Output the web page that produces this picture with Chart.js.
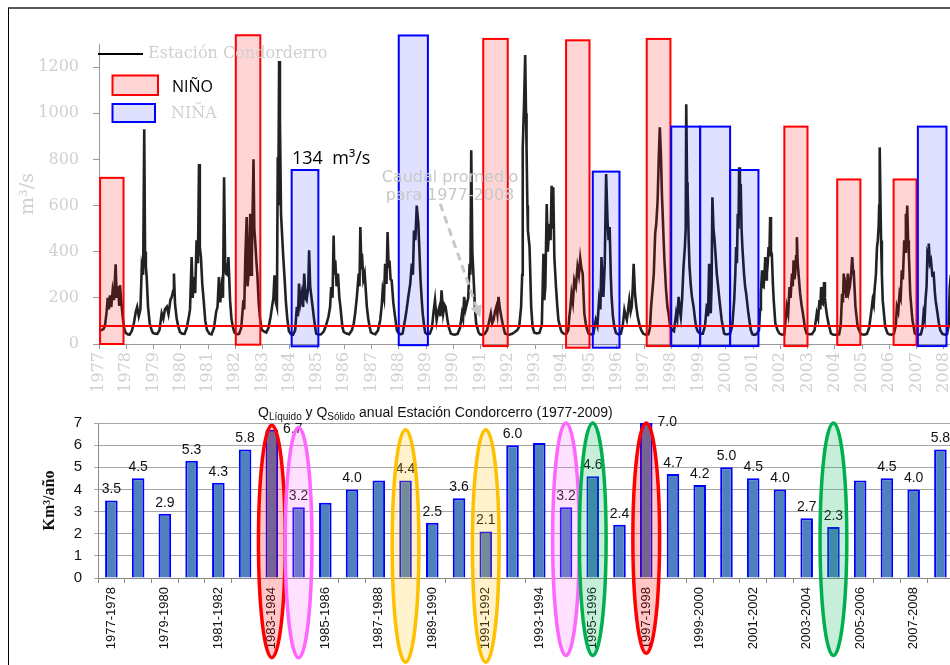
<!DOCTYPE html>
<html lang="es">
<head>
<meta charset="utf-8">
<title>Caudal diario y volumen anual - Estación Condorcerro</title>
<script src="https://cdn.jsdelivr.net/npm/chart.js@4.4.1/dist/chart.umd.min.js"></script>
<style>
  html, body { margin: 0; padding: 0; background: #fff; }
  body { width: 950px; height: 665px; overflow: hidden; position: relative; }
  #marco { position: absolute; left: 8px; top: 7px; width: 980px; height: 700px;
           border-left: 1px solid #000; border-top: 2px solid #5a5a5a; }
  #cajaCaudal { position: absolute; left: 0; top: 0; width: 971px; height: 400px; }
  #cajaVolumen { position: absolute; left: 0; top: 395px; width: 960px; height: 270px; }
</style>
</head>
<body>
<div id="marco"></div>
<div id="cajaCaudal"><canvas id="chartCaudal"></canvas></div>
<div id="cajaVolumen"><canvas id="chartVolumen"></canvas></div>
<script>
'use strict';

const hidrograma = [
  [1977.00,62],[1977.08,60],[1977.16,64],[1977.22,80],[1977.28,140],[1977.32,200],[1977.36,150],[1977.40,211],[1977.45,160],[1977.50,230],[1977.55,190],[1977.61,345],[1977.65,200],[1977.70,250],[1977.74,170],[1977.77,255],[1977.82,180],[1977.87,120],[1977.92,70],[1977.97,50],
  [1978.05,42],[1978.12,40],[1978.20,55],[1978.28,90],[1978.35,140],[1978.40,161],[1978.46,120],[1978.52,150],[1978.57,334],[1978.62,300],[1978.66,931],[1978.69,400],[1978.72,334],[1978.75,290],[1978.80,160],[1978.86,90],[1978.93,60],[1978.98,48],
  [1979.06,45],[1979.14,44],[1979.22,60],[1979.30,133],[1979.36,110],[1979.42,150],[1979.49,161],[1979.55,130],[1979.62,190],[1979.67,204],[1979.72,230],[1979.75,305],[1979.79,175],[1979.85,110],[1979.91,75],[1979.97,52],
  [1980.05,45],[1980.14,44],[1980.22,70],[1980.30,120],[1980.34,150],[1980.40,377],[1980.44,200],[1980.47,290],[1980.53,220],[1980.58,449],[1980.63,350],[1980.67,780],[1980.70,420],[1980.74,377],[1980.79,260],[1980.84,190],[1980.90,100],[1980.96,62],
  [1981.05,45],[1981.13,42],[1981.22,70],[1981.30,140],[1981.35,161],[1981.40,290],[1981.45,180],[1981.50,247],[1981.55,200],[1981.59,723],[1981.63,350],[1981.66,305],[1981.71,300],[1981.75,377],[1981.81,190],[1981.86,110],[1981.91,75],[1981.97,50],
  [1982.05,42],[1982.14,44],[1982.22,70],[1982.30,190],[1982.33,150],[1982.37,377],[1982.42,550],[1982.45,250],[1982.49,305],[1982.55,564],[1982.58,300],[1982.61,377],[1982.67,801],[1982.70,500],[1982.73,449],[1982.78,350],[1982.81,305],[1982.86,180],[1982.91,110],[1982.97,62],
  [1983.05,55],[1983.14,50],[1983.22,70],[1983.30,120],[1983.35,161],[1983.40,200],[1983.44,298],[1983.49,180],[1983.53,161],[1983.56,809],[1983.58,600],[1983.61,1226],[1983.64,967],[1983.68,564],[1983.73,449],[1983.76,380],[1983.80,305],[1983.86,180],[1983.91,110],[1983.97,55],
  [1984.05,42],[1984.12,40],[1984.20,60],[1984.26,161],[1984.30,120],[1984.34,262],[1984.39,180],[1984.44,218],[1984.49,160],[1984.53,305],[1984.58,200],[1984.62,190],[1984.68,250],[1984.71,406],[1984.75,250],[1984.78,218],[1984.84,160],[1984.88,120],[1984.93,75],[1984.97,45],
  [1985.05,40],[1985.15,42],[1985.25,55],[1985.33,80],[1985.42,118],[1985.48,160],[1985.52,247],[1985.57,200],[1985.61,470],[1985.64,300],[1985.67,363],[1985.72,250],[1985.77,305],[1985.82,200],[1985.86,161],[1985.93,75],[1985.98,52],
  [1986.08,45],[1986.18,42],[1986.28,60],[1986.35,90],[1986.40,133],[1986.46,200],[1986.53,305],[1986.56,250],[1986.59,507],[1986.63,330],[1986.65,392],[1986.70,280],[1986.75,305],[1986.83,161],[1986.88,110],[1986.93,75],[1986.98,50],
  [1987.06,45],[1987.14,42],[1987.24,60],[1987.32,104],[1987.37,160],[1987.41,233],[1987.46,200],[1987.50,348],[1987.55,260],[1987.59,485],[1987.63,330],[1987.66,362],[1987.70,280],[1987.74,276],[1987.80,180],[1987.85,132],[1987.93,60],[1987.98,48],
  [1988.06,42],[1988.14,45],[1988.23,104],[1988.29,150],[1988.35,204],[1988.42,260],[1988.48,348],[1988.52,300],[1988.56,492],[1988.61,450],[1988.66,600],[1988.69,560],[1988.72,521],[1988.76,400],[1988.80,276],[1988.85,180],[1988.88,132],[1988.93,80],[1988.97,50],
  [1989.05,42],[1989.14,45],[1989.22,70],[1989.27,132],[1989.33,190],[1989.39,104],[1989.44,140],[1989.49,161],[1989.53,120],[1989.57,233],[1989.63,132],[1989.68,170],[1989.72,161],[1989.78,110],[1989.83,75],[1989.91,45],[1989.97,42],
  [1990.06,40],[1990.16,44],[1990.25,70],[1990.32,132],[1990.36,110],[1990.40,204],[1990.45,150],[1990.50,175],[1990.55,200],[1990.60,348],[1990.63,300],[1990.66,840],[1990.70,400],[1990.75,276],[1990.80,150],[1990.84,89],[1990.93,50],[1990.98,42],
  [1991.06,40],[1991.16,45],[1991.24,60],[1991.30,89],[1991.38,132],[1991.43,90],[1991.48,104],[1991.53,140],[1991.58,161],[1991.62,130],[1991.66,204],[1991.72,146],[1991.76,120],[1991.81,89],[1991.90,45],[1991.97,42],
  [1992.06,40],[1992.16,44],[1992.26,52],[1992.35,60],[1992.42,75],[1992.49,161],[1992.53,300],[1992.55,852],[1992.60,1050],[1992.64,1252],[1992.67,1000],[1992.69,852],[1992.72,600],[1992.74,492],[1992.80,420],[1992.86,161],[1992.91,75],[1992.97,50],
  [1993.06,46],[1993.16,48],[1993.25,80],[1993.31,391],[1993.34,190],[1993.38,250],[1993.43,607],[1993.47,400],[1993.53,521],[1993.57,450],[1993.61,686],[1993.64,500],[1993.67,679],[1993.71,377],[1993.77,248],[1993.82,160],[1993.86,104],[1993.95,60],[1993.99,50],
  [1994.06,45],[1994.14,42],[1994.22,60],[1994.26,118],[1994.30,160],[1994.34,218],[1994.39,180],[1994.44,276],[1994.50,250],[1994.56,334],[1994.61,300],[1994.66,370],[1994.70,330],[1994.75,305],[1994.81,133],[1994.86,90],[1994.90,68],[1994.97,45],
  [1995.05,42],[1995.14,44],[1995.23,104],[1995.29,80],[1995.35,190],[1995.40,150],[1995.44,377],[1995.48,250],[1995.51,204],[1995.56,350],[1995.61,737],[1995.66,536],[1995.70,450],[1995.74,507],[1995.78,300],[1995.81,204],[1995.86,120],[1995.91,75],[1995.97,48],
  [1996.06,42],[1996.15,45],[1996.22,80],[1996.28,147],[1996.33,120],[1996.37,104],[1996.42,150],[1996.46,190],[1996.51,140],[1996.55,161],[1996.59,250],[1996.62,348],[1996.67,218],[1996.72,160],[1996.77,118],[1996.84,80],[1996.90,60],[1996.97,45],
  [1997.06,40],[1997.16,42],[1997.22,70],[1997.26,161],[1997.31,230],[1997.36,305],[1997.41,478],[1997.45,520],[1997.50,622],[1997.54,800],[1997.58,939],[1997.62,824],[1997.66,640],[1997.69,550],[1997.72,450],[1997.75,363],[1997.81,233],[1997.86,160],[1997.90,133],[1997.96,75],
  [1998.04,60],[1998.10,55],[1998.18,133],[1998.22,110],[1998.27,204],[1998.31,150],[1998.35,118],[1998.40,200],[1998.45,334],[1998.50,420],[1998.53,500],[1998.55,1039],[1998.58,700],[1998.60,665],[1998.64,450],[1998.67,334],[1998.72,250],[1998.76,204],[1998.82,161],[1998.87,110],[1998.91,75],[1998.97,55],
  [1999.06,45],[1999.16,45],[1999.24,80],[1999.31,175],[1999.35,120],[1999.39,348],[1999.42,200],[1999.45,133],[1999.48,250],[1999.51,636],[1999.55,500],[1999.59,449],[1999.63,380],[1999.67,305],[1999.72,250],[1999.77,190],[1999.85,104],[1999.94,46],[1999.99,42],
  [2000.07,42],[2000.16,45],[2000.24,80],[2000.31,190],[2000.35,300],[2000.38,420],[2000.41,350],[2000.44,564],[2000.47,500],[2000.49,766],[2000.52,600],[2000.55,694],[2000.58,500],[2000.61,420],[2000.67,305],[2000.71,250],[2000.75,218],[2000.83,133],[2000.92,60],[2000.98,42],
  [2001.06,40],[2001.14,44],[2001.22,60],[2001.26,150],[2001.29,218],[2001.33,319],[2001.36,250],[2001.39,247],[2001.42,300],[2001.45,377],[2001.48,280],[2001.51,305],[2001.54,350],[2001.57,420],[2001.60,380],[2001.63,550],[2001.66,400],[2001.69,392],[2001.73,260],[2001.76,190],[2001.82,89],[2001.90,60],[2001.97,45],
  [2002.06,40],[2002.15,42],[2002.24,161],[2002.29,130],[2002.34,247],[2002.38,200],[2002.43,305],[2002.46,250],[2002.49,363],[2002.52,280],[2002.55,305],[2002.58,380],[2002.61,463],[2002.64,350],[2002.67,305],[2002.73,218],[2002.78,170],[2002.83,133],[2002.91,68],[2002.97,45],
  [2003.06,42],[2003.16,42],[2003.26,60],[2003.34,133],[2003.39,110],[2003.44,190],[2003.47,150],[2003.50,247],[2003.53,180],[2003.56,175],[2003.58,210],[2003.61,268],[2003.64,200],[2003.67,161],[2003.72,120],[2003.77,89],[2003.86,46],[2003.95,40],
  [2004.06,40],[2004.16,42],[2004.22,80],[2004.27,218],[2004.30,180],[2004.33,305],[2004.36,220],[2004.39,247],[2004.43,200],[2004.48,305],[2004.52,230],[2004.55,247],[2004.60,300],[2004.64,377],[2004.67,320],[2004.70,305],[2004.76,161],[2004.84,75],[2004.94,46],[2004.99,42],
  [2005.08,40],[2005.18,44],[2005.26,70],[2005.30,104],[2005.35,150],[2005.39,190],[2005.43,170],[2005.46,233],[2005.51,300],[2005.55,420],[2005.58,450],[2005.61,507],[2005.63,600],[2005.65,852],[2005.68,600],[2005.70,449],[2005.73,300],[2005.76,190],[2005.85,75],[2005.94,46],[2005.99,42],
  [2006.08,40],[2006.17,44],[2006.24,80],[2006.28,161],[2006.33,140],[2006.38,218],[2006.42,200],[2006.46,319],[2006.50,280],[2006.55,449],[2006.58,400],[2006.61,564],[2006.64,500],[2006.66,600],[2006.69,450],[2006.72,392],[2006.77,218],[2006.81,160],[2006.85,104],[2006.94,46],[2006.99,42],
  [2007.08,40],[2007.16,42],[2007.22,70],[2007.26,133],[2007.30,110],[2007.33,190],[2007.37,250],[2007.40,392],[2007.43,380],[2007.45,435],[2007.49,350],[2007.53,363],[2007.58,300],[2007.63,305],[2007.67,230],[2007.70,190],[2007.77,133],[2007.82,90],[2007.87,60],[2007.95,44],
  [2008.05,40],[2008.12,42],[2008.18,80],[2008.22,247],[2008.26,300],[2008.30,200]
];

// Periodos El Niño / La Niña: [inicio, fin, tope, base] en años y m3/s
const eventosNino = [
  [1977.04, 1977.90, 720, 0], [1982.02, 1982.92, 1338, -3], [1991.10, 1992.00, 1322, -9],
  [1994.14, 1995.00, 1316, -16], [1997.10, 1997.97, 1322, -9], [2002.15, 2003.00, 942, -9],
  [2004.09, 2004.94, 713, -4], [2006.16, 2007.00, 713, -4]
];
const eventosNina = [
  [1984.07, 1985.05, 754, -10], [1988.00, 1989.07, 1337, -5], [1995.12, 1996.10, 747, -16],
  [1998.00, 1999.06, 942, -9], [1999.06, 2000.16, 942, -9], [2000.16, 2001.20, 754, -9],
  [2007.05, 2008.10, 942, -9]
];
const caudalPromedio = 78;
const ticksCaudal = [0, 200, 400, 600, 800, 1000, 1200];

// Volumen anual (km3/año) por año hidrológico
const anioHidrologico = [
  '1977-1978', '1978-1979', '1979-1980', '1980-1981', '1981-1982', '1982-1983', '1983-1984', '1984-1985',
  '1985-1986', '1986-1987', '1987-1988', '1988-1989', '1989-1990', '1990-1991', '1991-1992', '1992-1993',
  '1993-1994', '1994-1995', '1995-1996', '1996-1997', '1997-1998', '1998-1999', '1999-2000', '2000-2001',
  '2001-2002', '2002-2003', '2003-2004', '2004-2005', '2005-2006', '2006-2007', '2007-2008', '2008-2009'
];
const volumenAnual = [
  3.5, 4.5, 2.9, 5.3, 4.3, 5.8, 6.7, 3.2, 3.4, 4.0, 4.4, 4.4, 2.5, 3.6, 2.1, 6.0,
  6.1, 3.2, 4.6, 2.4, 7.0, 4.7, 4.2, 5.0, 4.5, 4.0, 2.7, 2.3, 4.4, 4.5, 4.0, 5.8
];
const etiquetaVolumen = [
  '3.5', '4.5', '2.9', '5.3', '4.3', '5.8', '6.7', '3.2', '', '4.0', '', '4.4', '2.5', '3.6', '2.1', '6.0',
  '', '3.2', '4.6', '2.4', '7.0', '4.7', '4.2', '5.0', '4.5', '4.0', '2.7', '2.3', '', '4.5', '4.0', '5.8'
];
// Años resaltados: [índice, desde, hasta (km3/año), grupo]
const resaltados = [
  [6, -3.6, 6.9, 'rojo'], [7, -3.6, 6.8, 'rosa'], [11, -3.8, 6.7, 'naranja'], [14, -3.8, 6.7, 'naranja'],
  [17, -3.5, 7.0, 'rosa'], [18, -3.5, 7.0, 'verde'], [20, -3.4, 7.0, 'rojo'], [27, -3.5, 7.0, 'verde']
];

const SERIF = '"DejaVu Serif", "Liberation Serif", serif';
const SANS = '"Open Sans", "DejaVu Sans", sans-serif';
const SANS_XL = '"Liberation Sans", Arial, sans-serif';
const GRIS_CLARO = '#d0d0d0';

const estiloGrupo = {
  rojo: { borde: '#ff0000', relleno: 'rgba(255, 0, 0, 0.22)' },
  rosa: { borde: '#ff66ff', relleno: 'rgba(255, 102, 255, 0.2)' },
  naranja: { borde: '#ffc000', relleno: 'rgba(255, 192, 0, 0.2)' },
  verde: { borde: '#00b050', relleno: 'rgba(0, 176, 80, 0.22)' }
};

var dibujoCaudal = {
  id: 'dibujoCaudal',
  afterDatasetsDraw: function (chart) {
    var ctx = chart.ctx, x = chart.scales.x, y = chart.scales.y;
    var caja = function (ev, relleno, borde) {
      var x0 = x.getPixelForValue(ev[0]), x1 = x.getPixelForValue(ev[1]);
      var yt = y.getPixelForValue(ev[2]), yb = y.getPixelForValue(ev[3]);
      ctx.fillStyle = relleno;
      ctx.fillRect(x0, yt, x1 - x0, yb - yt);
      ctx.strokeStyle = borde;
      ctx.lineWidth = 2;
      ctx.strokeRect(x0, yt, x1 - x0, yb - yt);
    };
    ctx.save();
    eventosNino.forEach(function (ev) { caja(ev, 'rgba(255, 0, 0, 0.17)', '#ff0000'); });
    eventosNina.forEach(function (ev) { caja(ev, 'rgba(0, 0, 255, 0.12)', '#0000ff'); });

    var ym = y.getPixelForValue(caudalPromedio);
    ctx.strokeStyle = '#ff0000';
    ctx.lineWidth = 2;
    ctx.beginPath();
    ctx.moveTo(chart.chartArea.left, ym);
    ctx.lineTo(chart.chartArea.right, ym);
    ctx.stroke();
    ctx.restore();
  },
  afterDraw: function (chart) {
    var ctx = chart.ctx, x = chart.scales.x, y = chart.scales.y;
    ctx.save();
    ctx.textBaseline = 'middle';

    // leyenda
    ctx.strokeStyle = '#000';
    ctx.lineWidth = 2;
    ctx.beginPath(); ctx.moveTo(98, 54); ctx.lineTo(143, 54); ctx.stroke();
    ctx.fillStyle = GRIS_CLARO;
    ctx.font = '16px ' + SERIF;
    ctx.fillText('Estación Condorderro', 148, 54);

    ctx.fillStyle = 'rgba(255, 0, 0, 0.17)';
    ctx.fillRect(112.5, 75.5, 45.5, 19.5);
    ctx.strokeStyle = '#ff0000';
    ctx.strokeRect(112.5, 75.5, 45.5, 19.5);
    ctx.fillStyle = '#000';
    ctx.font = '16px ' + SANS;
    ctx.fillText('NIÑO', 172, 87);

    ctx.fillStyle = 'rgba(0, 0, 255, 0.12)';
    ctx.fillRect(112.5, 104, 42.5, 18);
    ctx.strokeStyle = '#0000ff';
    ctx.strokeRect(112.5, 104, 42.5, 18);
    ctx.fillStyle = GRIS_CLARO;
    ctx.font = '16px ' + SERIF;
    ctx.fillText('NIÑA', 171, 114);

    ctx.fillStyle = '#000';
    ctx.font = '18px ' + SANS;
    ctx.fillText('134  m³/s', 292, 159);

    // nota del caudal promedio
    ctx.fillStyle = '#c8c8c8';
    ctx.font = '16px "DejaVu Sans", sans-serif';
    ctx.textAlign = 'center';
    ctx.fillText('Caudal promedio', x.getPixelForValue(1989.88), y.getPixelForValue(722));
    ctx.fillText('para 1977-2008', x.getPixelForValue(1989.88), y.getPixelForValue(640));

    var ax = x.getPixelForValue(1989.52), ay = y.getPixelForValue(608);
    var bx = x.getPixelForValue(1990.99), by = y.getPixelForValue(115);
    var ang = Math.atan2(by - ay, bx - ax);
    ctx.strokeStyle = '#c8c8c8';
    ctx.lineWidth = 3;
    ctx.setLineDash([8, 5]);
    ctx.beginPath();
    ctx.moveTo(ax, ay);
    ctx.lineTo(bx - 8 * Math.cos(ang), by - 8 * Math.sin(ang));
    ctx.stroke();
    ctx.setLineDash([]);
    ctx.fillStyle = '#c8c8c8';
    ctx.beginPath();
    ctx.moveTo(bx, by);
    ctx.lineTo(bx - 12 * Math.cos(ang) + 6 * Math.sin(ang), by - 12 * Math.sin(ang) - 6 * Math.cos(ang));
    ctx.lineTo(bx - 12 * Math.cos(ang) - 6 * Math.sin(ang), by - 12 * Math.sin(ang) + 6 * Math.cos(ang));
    ctx.closePath();
    ctx.fill();
    ctx.restore();
  }
};

var dibujoVolumen = {
  id: 'dibujoVolumen',
  afterDatasetsDraw: function (chart) {
    var ctx = chart.ctx;
    var barras = chart.getDatasetMeta(0).data;
    ctx.save();
    ctx.fillStyle = '#111';
    ctx.font = '14px ' + SANS_XL;
    barras.forEach(function (barra, i) {
      var texto = etiquetaVolumen[i];
      if (!texto) return;
      if (volumenAnual[i] > 6.5) {
        ctx.textAlign = 'left';
        ctx.textBaseline = 'middle';
        ctx.fillText(texto, barra.x + barra.width / 2 + 5, barra.y - 1);
      } else {
        ctx.textAlign = 'center';
        ctx.textBaseline = 'bottom';
        ctx.fillText(texto, barra.x, barra.y - 4);
      }
    });
    ctx.restore();
  },
  afterDraw: function (chart) {
    var ctx = chart.ctx, x = chart.scales.x, y = chart.scales.y;
    var paso = x.getPixelForValue(1) - x.getPixelForValue(0);
    ctx.save();
    resaltados.forEach(function (r) {
      var estilo = estiloGrupo[r[3]];
      var cx = x.getPixelForValue(r[0]);
      var yTop = y.getPixelForValue(r[2]), yBot = y.getPixelForValue(r[1]);
      ctx.beginPath();
      ctx.ellipse(cx, (yTop + yBot) / 2, paso * 0.5, (yBot - yTop) / 2, 0, 0, Math.PI * 2);
      ctx.fillStyle = estilo.relleno;
      ctx.fill();
      ctx.strokeStyle = estilo.borde;
      ctx.lineWidth = 3.5;
      ctx.stroke();
    });

    // título con subíndices
    var piezas = [['Q', 14, 0], ['Líquido', 10, 3], [' y Q', 14, 0], ['Sólido', 10, 3],
      [' anual Estación Condorcerro (1977-2009)', 14, 0]];
    var xx = 258;
    ctx.fillStyle = '#111';
    ctx.textBaseline = 'alphabetic';
    ctx.textAlign = 'left';
    piezas.forEach(function (p) {
      ctx.font = p[1] + 'px ' + SANS_XL;
      ctx.fillText(p[0], xx, 22 + p[2]);
      xx += ctx.measureText(p[0]).width;
    });
    ctx.restore();
  }
};

(function initCharts() {
  new Chart(document.getElementById('chartCaudal').getContext('2d'), {
    type: 'line',
    data: {
      datasets: [{
        label: 'Estación Condorderro',
        data: hidrograma,
        borderColor: '#222',
        borderWidth: 2.6,
        pointRadius: 0,
        tension: 0
      }]
    },
    options: {
      animation: false,
      responsive: true,
      maintainAspectRatio: false,
      layout: { padding: { top: 44, left: 0, right: 0, bottom: 0 } },
      plugins: { legend: { display: false }, tooltip: { enabled: false } },
      scales: {
        x: {
          type: 'linear',
          min: 1977,
          max: 2009,
          afterFit: function (s) { s.height = 56; },
          afterBuildTicks: function (s) { s.ticks = s.ticks.filter(function (t) { return t.value <= 2008; }); },
          ticks: {
            stepSize: 1, autoSkip: false, minRotation: 90, maxRotation: 90, padding: 3,
            color: GRIS_CLARO, font: { family: SERIF, size: 16 },
            callback: function (v) { return String(v); }
          },
          grid: { drawOnChartArea: false, tickLength: 5, color: '#9a9a9a' },
          border: { color: '#9a9a9a' }
        },
        y: {
          min: 0,
          max: 1300,
          afterFit: function (s) { s.width = 99; },
          afterBuildTicks: function (s) {
            s.ticks = ticksCaudal.map(function (v) { return { value: v }; });
          },
          ticks: {
            padding: 14, color: GRIS_CLARO, font: { family: SERIF, size: 16 },
            callback: function (v) { return String(v); }
          },
          grid: { drawOnChartArea: false, tickLength: 6, color: '#9a9a9a' },
          border: { color: '#9a9a9a' },
          title: {
            display: true, text: 'm³/s', color: GRIS_CLARO,
            font: { family: SERIF, size: 19 }, padding: { top: 17, bottom: 0 }
          }
        }
      }
    },
    plugins: [dibujoCaudal]
  });

  new Chart(document.getElementById('chartVolumen').getContext('2d'), {
    type: 'bar',
    data: {
      labels: anioHidrologico,
      datasets: [{
        label: 'Volumen anual',
        data: volumenAnual,
        backgroundColor: '#4f81bd',
        borderColor: '#0000ff',
        borderWidth: 2,
        barPercentage: 0.47,
        categoryPercentage: 1
      }]
    },
    options: {
      animation: false,
      responsive: true,
      maintainAspectRatio: false,
      layout: { padding: { top: 28, left: 0, right: 0, bottom: 0 } },
      plugins: { legend: { display: false }, tooltip: { enabled: false } },
      scales: {
        x: {
          afterFit: function (s) { s.height = 87; },
          ticks: {
            autoSkip: false, minRotation: 90, maxRotation: 90, padding: 4,
            color: '#111', font: { family: SANS_XL, size: 13 },
            callback: function (v, i) { return i % 2 === 0 ? anioHidrologico[i] : ''; }
          },
          grid: { offset: true, drawOnChartArea: false, tickLength: 5, color: '#888' },
          border: { color: '#888' }
        },
        y: {
          min: 0,
          max: 7,
          afterFit: function (s) { s.width = 98; },
          ticks: { stepSize: 1, padding: 12, color: '#111', font: { family: SANS_XL, size: 15 } },
          grid: { color: '#a6a6a6', tickLength: 4 },
          border: { color: '#888' },
          title: {
            display: true, text: 'Km³/año', color: '#111',
            font: { family: '"Liberation Serif", serif', size: 16, weight: 'bold' },
            padding: { top: 40, bottom: 0 }
          }
        }
      }
    },
    plugins: [dibujoVolumen]
  });
})();
</script>
</body>
</html>
